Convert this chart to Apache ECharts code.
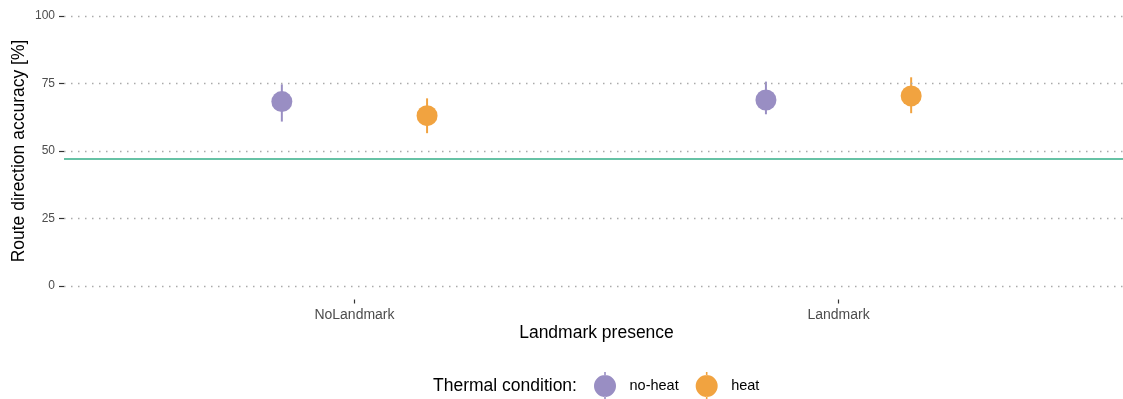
<!DOCTYPE html>
<html>
<head>
<meta charset="utf-8">
<script src="https://cdn.jsdelivr.net/npm/echarts@6/dist/echarts.min.js"></script>
<style>
  html, body { margin: 0; padding: 0; background: #fff; }
  #chart { width: 1123px; height: 399px; }
</style>
</head>
<body>
<div id="chart"></div>
<script>
// Landmark presence categories
const categories = ['NoLandmark', 'Landmark'];

// Route direction accuracy [%]: mean with lower / upper interval bounds
const noHeatMean = [68.3, 68.9];
const noHeatLow  = [60.9, 63.6];
const noHeatHigh = [74.7, 75.7];

const heatMean = [63.1, 70.4];
const heatLow  = [56.6, 64.0];
const heatHigh = [69.5, 77.3];

// Chance level reference
const chanceLevel = 47;

// Y ticks
const yTicks = [0, 25, 50, 75, 100];

const conditionNames = ['no-heat', 'heat'];
const COLORS = ['#998ec3', '#f1a340'];
const DODGE = 0.15;
const FONT = 'Liberation Sans, Arial, sans-serif';

function buildData(mean, low, high, shift) {
  return categories.map((c, i) => [i + 1 + shift, mean[i], low[i], high[i]]);
}

function renderPointRange(params, api) {
  const x = api.value(0);
  const pm = api.coord([x, api.value(1)]);
  const pl = api.coord([x, api.value(2)]);
  const ph = api.coord([x, api.value(3)]);
  const color = api.visual('color');
  return {
    type: 'group',
    children: [
      { type: 'line', shape: { x1: pl[0], y1: pl[1], x2: ph[0], y2: ph[1] },
        style: { stroke: color, lineWidth: 2 } },
      { type: 'circle', shape: { cx: pm[0], cy: pm[1], r: 10.5 },
        style: { fill: color } }
    ]
  };
}

// legend key: filled dot with a short vertical range stroke
const keyIcon = 'path://M0,14a11,11 0 1,0 22,0a11,11 0 1,0 -22,0Z M10.2,0h1.6v3.2h-1.6Z M10.2,24.8h1.6v3.2h-1.6Z';

// the value range is padded 5% past the tick range on both ends
const yPad = (yTicks[yTicks.length - 1] - yTicks[0]) * 0.05;

const chart = echarts.init(document.getElementById('chart'), null, { renderer: 'canvas' });

chart.setOption({
  animation: false,
  backgroundColor: '#ffffff',
  textStyle: { fontFamily: FONT },
  grid: { left: 64, top: 2.5, height: 297, width: 1065, outerBoundsMode: 'none', containLabel: false },
  title: {
    text: 'Thermal condition:',
    left: 428, top: 372,
    textStyle: { fontFamily: FONT, fontSize: 17.5, fontWeight: 'normal', color: '#000' }
  },
  legend: {
    left: 589, top: 367,
    itemWidth: 39, itemHeight: 28, itemGap: 17,
    icon: keyIcon,
    data: conditionNames,
    textStyle: { fontFamily: FONT, fontSize: 14.5, color: '#000' }
  },
  xAxis: {
    type: 'value',
    min: 0.4, max: 2.6,
    name: 'Landmark presence',
    nameLocation: 'middle',
    nameGap: 25,
    nameMoveOverlap: false,
    nameTextStyle: { fontFamily: FONT, fontSize: 17.5, color: '#000' },
    axisLine: { show: false, onZero: false },
    axisTick: { show: true, length: 4, customValues: [1, 2], lineStyle: { color: '#333', width: 1.2 } },
    axisLabel: {
      customValues: [1, 2],
      margin: 9,
      fontFamily: FONT, fontSize: 14, color: '#4d4d4d',
      formatter: v => categories[Math.round(v) - 1] || ''
    },
    splitLine: { show: false }
  },
  yAxis: {
    type: 'value',
    min: yTicks[0] - yPad, max: yTicks[yTicks.length - 1] + yPad,
    name: 'Route direction accuracy [%]',
    nameLocation: 'middle',
    nameGap: 36,
    nameMoveOverlap: false,
    nameTextStyle: { fontFamily: FONT, fontSize: 17.5, color: '#000' },
    axisLine: { show: false, onZero: false },
    axisTick: { show: true, length: 5, customValues: yTicks, lineStyle: { color: '#333', width: 1.2 } },
    axisLabel: { customValues: yTicks, margin: 9, fontFamily: FONT, fontSize: 12, color: '#4d4d4d' },
    splitLine: { show: false }
  },
  series: [
    {
      // horizontal dotted guides at the y ticks
      name: 'guides',
      type: 'custom',
      renderItem: () => null,
      data: [],
      silent: true,
      markLine: {
        silent: true,
        symbol: 'none',
        label: { show: false },
        lineStyle: { color: '#aaaaaa', width: 1.4, type: [1.5, 5.5] },
        data: yTicks.map(v => ({ yAxis: v }))
      },
      z: 1
    },
    {
      name: conditionNames[0],
      type: 'custom',
      color: COLORS[0],
      renderItem: renderPointRange,
      encode: { x: 0, y: [1, 2, 3] },
      data: buildData(noHeatMean, noHeatLow, noHeatHigh, -DODGE),
      markLine: {
        silent: true,
        symbol: 'none',
        label: { show: false },
        lineStyle: { color: '#66c2a5', width: 2, type: 'solid' },
        data: [{ yAxis: chanceLevel }]
      },
      z: 3
    },
    {
      name: conditionNames[1],
      type: 'custom',
      color: COLORS[1],
      renderItem: renderPointRange,
      encode: { x: 0, y: [1, 2, 3] },
      data: buildData(heatMean, heatLow, heatHigh, DODGE),
      z: 3
    }
  ]
});
</script>
</body>
</html>
